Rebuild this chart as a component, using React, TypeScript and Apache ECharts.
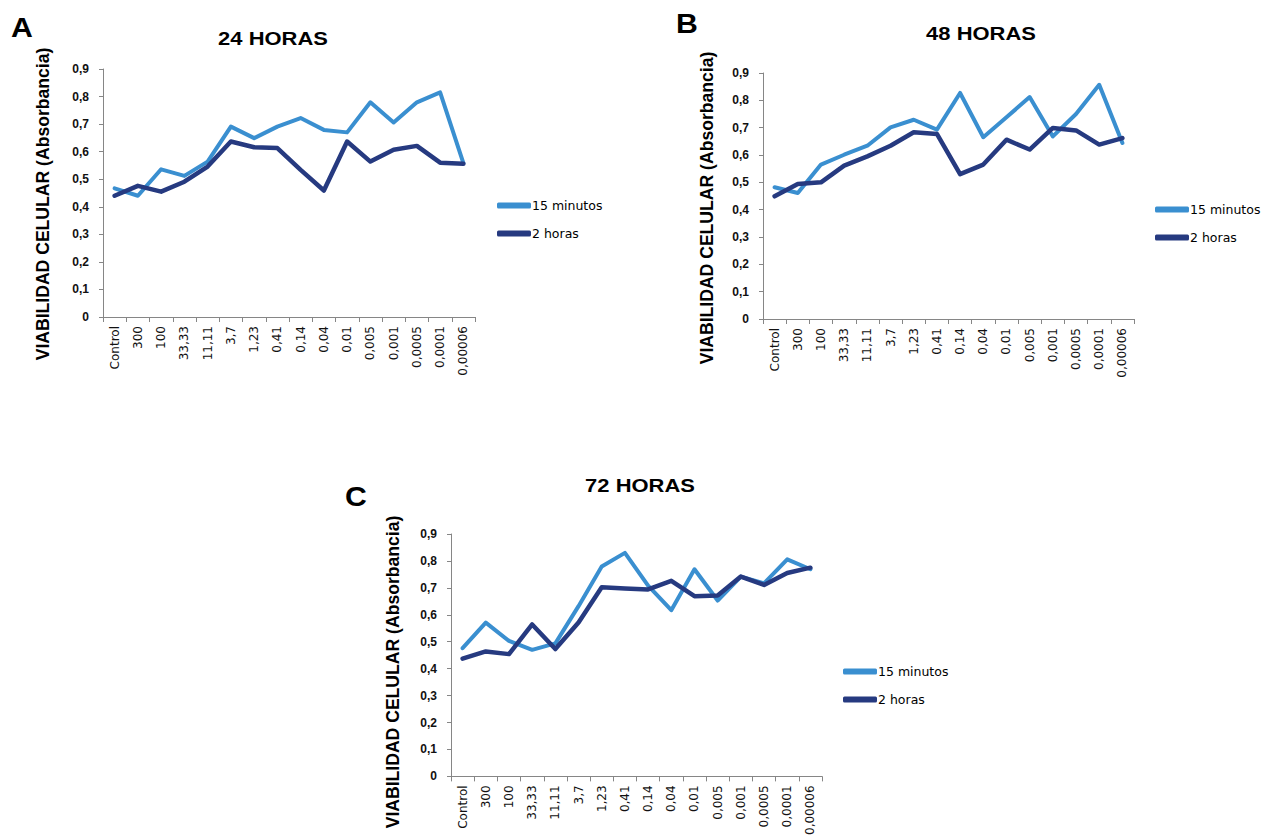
import React, { useEffect, useRef } from "react";
import * as echarts from "echarts";

const categories = ["Control", "300", "100", "33,33", "11,11", "3,7", "1,23", "0,41", "0,14", "0,04", "0,01", "0,005", "0,001", "0,0005", "0,0001", "0,00006"];
const seriesNames = ["15 minutos", "2 horas"];
const panelTitles = ["24 HORAS", "48 HORAS", "72 HORAS"];
const panelLetters = ["A", "B", "C"];
const yAxisName = "VIABILIDAD CELULAR (Absorbancia)";

const a15 = [0.467, 0.44, 0.536, 0.512, 0.564, 0.691, 0.649, 0.691, 0.722, 0.679, 0.67, 0.779, 0.706, 0.779, 0.815, 0.558];
const a2 = [0.44, 0.476, 0.455, 0.491, 0.546, 0.637, 0.616, 0.613, 0.534, 0.459, 0.637, 0.564, 0.607, 0.621, 0.56, 0.556];
const b15 = [0.482, 0.461, 0.565, 0.601, 0.634, 0.701, 0.729, 0.693, 0.827, 0.665, 0.738, 0.812, 0.668, 0.75, 0.857, 0.644];
const b2 = [0.449, 0.494, 0.5, 0.561, 0.595, 0.634, 0.683, 0.677, 0.53, 0.565, 0.656, 0.62, 0.699, 0.69, 0.638, 0.662];
const c15 = [0.476, 0.571, 0.503, 0.47, 0.494, 0.632, 0.779, 0.83, 0.708, 0.617, 0.769, 0.653, 0.742, 0.717, 0.806, 0.769];
const c2 = [0.437, 0.464, 0.454, 0.564, 0.473, 0.571, 0.702, 0.698, 0.694, 0.726, 0.669, 0.672, 0.742, 0.711, 0.755, 0.775];

const LIGHT = "#3a8fd0";
const DARK = "#263a80";

export default function App() {
  const ref = useRef<HTMLDivElement>(null);

  useEffect(() => {
    document.body.style.margin = "0";
    if (!ref.current) return;
    const chart = echarts.init(ref.current, null, { renderer: "svg" });

    const grids = [
      { left: 103, top: 69, width: 372, height: 248 },
      { left: 763, top: 73, width: 371, height: 246 },
      { left: 451, top: 534, width: 371, height: 246 },
    ];
    const titlePos = [
      [273, 39],
      [981, 34],
      [640, 486],
    ];
    const letterPos = [
      [22, 28],
      [687, 24],
      [356, 497],
    ];
    const namePos = [
      [42, 204],
      [706, 208],
      [392, 672],
    ];
    const legendPos = [
      [497, 199],
      [1155, 203],
      [843, 665],
    ];
    const data15 = [a15, b15, c15];
    const data2 = [a2, b2, c2];

    const axisColor = "#868686";

    const xAxis = grids.map((_, i) => ({
      type: "category",
      gridIndex: i,
      data: categories,
      boundaryGap: true,
      axisLine: { lineStyle: { color: axisColor, width: 1 } },
      axisTick: { show: true, length: 5, lineStyle: { color: axisColor } },
      axisLabel: {
        rotate: 90,
        interval: 0,
        margin: 9,
        fontFamily: "DejaVu Sans",
        fontSize: 12,
        color: "#111",
      },
    }));

    const yAxis = grids.map((_, i) => ({
      type: "value",
      gridIndex: i,
      min: 0,
      max: 0.9,
      interval: 0.1,
      axisLine: { show: true, lineStyle: { color: axisColor, width: 1 } },
      axisTick: { show: true, length: 4, lineStyle: { color: axisColor } },
      splitLine: { show: false },
      axisLabel: {
        margin: 14,
        fontFamily: "Liberation Sans",
        fontSize: 12,
        fontWeight: "bold",
        color: "#111",
        formatter: (v: number) => (Math.round(v * 10) / 10).toString().replace(".", ","),
      },
    }));

    const series: any[] = [];
    grids.forEach((_, i) => {
      series.push({
        type: "line",
        name: seriesNames[0],
        xAxisIndex: i,
        yAxisIndex: i,
        data: data15[i],
        symbol: "none",
        lineStyle: { color: LIGHT, width: 4, join: "round", cap: "round" },
        itemStyle: { color: LIGHT },
      });
      series.push({
        type: "line",
        name: seriesNames[1],
        xAxisIndex: i,
        yAxisIndex: i,
        data: data2[i],
        symbol: "none",
        lineStyle: { color: DARK, width: 4.5, join: "round", cap: "round" },
        itemStyle: { color: DARK },
      });
    });

    const legend = legendPos.map(([x, y]) => ({
      orient: "vertical",
      left: x,
      top: y,
      padding: 0,
      itemGap: 15,
      itemWidth: 34,
      itemHeight: 6,
      icon: "roundRect",
      data: seriesNames,
      textStyle: { fontFamily: "DejaVu Sans", fontSize: 12.5, color: "#000", padding: [0, 0, 0, -4] },
    }));

    const graphic: any[] = [];
    grids.forEach((_, i) => {
      graphic.push({
        type: "text",
        x: titlePos[i][0],
        y: titlePos[i][1],
        scaleX: 1.22,
        style: {
          text: panelTitles[i],
          font: "bold 18px 'Liberation Sans', Arial, sans-serif",
          fill: "#000",
          textAlign: "center",
          textVerticalAlign: "middle",
        },
      });
      graphic.push({
        type: "text",
        x: letterPos[i][0],
        y: letterPos[i][1],
        scaleX: 1.12,
        style: {
          text: panelLetters[i],
          font: "bold 27px 'Liberation Sans', Arial, sans-serif",
          fill: "#000",
          textAlign: "center",
          textVerticalAlign: "middle",
        },
      });
      graphic.push({
        type: "text",
        x: namePos[i][0],
        y: namePos[i][1],
        rotation: Math.PI / 2,
        scaleX: 1.1,
        scaleY: 1.2,
        style: {
          text: yAxisName,
          font: "bold 16px 'Liberation Sans', Arial, sans-serif",
          fill: "#000",
          textAlign: "center",
          textVerticalAlign: "middle",
        },
      });
    });

    chart.setOption({
      animation: false,
      backgroundColor: "#fff",
      grid: grids,
      xAxis,
      yAxis,
      series,
      legend,
      graphic,
    });

    return () => chart.dispose();
  }, []);

  return <div ref={ref} style={{ width: 1261, height: 838 }} />;
}
